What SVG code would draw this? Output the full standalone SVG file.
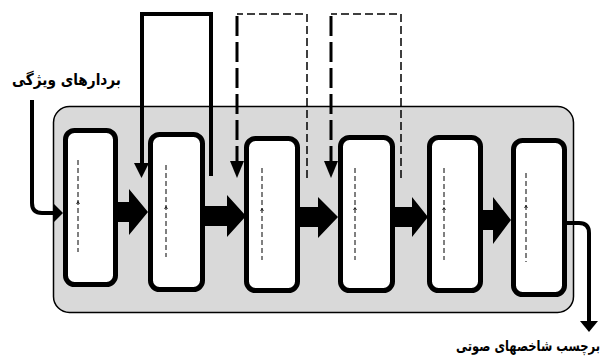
<svg xmlns="http://www.w3.org/2000/svg" width="606" height="361" viewBox="0 0 606 361">
<defs>
<style>
.box{fill:#fff;stroke:#000;stroke-width:5}
.lbl{font-family:"DejaVu Sans",sans-serif;font-weight:bold;font-size:16px;fill:#000}
.inner{stroke:#000;stroke-width:1;stroke-dasharray:5,3;fill:none}
.caret{stroke:#000;stroke-width:0.8;fill:none}
.solid{stroke:#000;stroke-width:4;fill:none}
.thin{stroke:#000;stroke-width:1.5;stroke-dasharray:8,4;fill:none}
.thick{stroke:#000;stroke-width:3;stroke-dasharray:20,6;fill:none}
.head{fill:#000}
</style>
</defs>
<rect id="container" x="53.5" y="106.5" width="520" height="206" rx="16" fill="#d9d9d9" stroke="#000" stroke-width="1.5"/>
<g id="box1"><rect class="box" x="65.5" y="130.5" width="50" height="154" rx="9"/><path class="inner" d="M78,160 V252"/><path class="caret" d="M76.5,204 L78,201.5 L79.5,204"/></g>
<g id="box2"><rect class="box" x="150.5" y="134.5" width="52" height="155" rx="9"/><path class="inner" d="M166,165 V257"/><path class="caret" d="M164.5,209 L166,206.5 L167.5,209"/></g>
<g id="box3"><rect class="box" x="246.5" y="138.5" width="51" height="152" rx="9"/><path class="inner" d="M262,168 V260"/><path class="caret" d="M260.5,211 L262,208.5 L263.5,211"/></g>
<g id="box4"><rect class="box" x="340.5" y="137.5" width="52" height="153" rx="9"/><path class="inner" d="M355,168 V260"/><path class="caret" d="M353.5,210 L355,207.5 L356.5,210"/></g>
<g id="box5"><rect class="box" x="429.5" y="137.5" width="51" height="153" rx="9"/><path class="inner" d="M444,168 V260"/><path class="caret" d="M442.5,210 L444,207.5 L445.5,210"/></g>
<g id="box6"><rect class="box" x="513.5" y="140.5" width="51" height="154" rx="9"/><path class="inner" d="M526,173 V262"/><path class="caret" d="M524.5,208 L526,205.5 L527.5,208"/></g>
<g id="connectors">
<path class="solid" d="M32,100 V203 Q32,213 42,213 H55" stroke-width="7"/>
<polygon class="head" points="53,203 63,213 53,223"/>
<polygon class="head" points="117,202 129,202 129,189 148,212 129,235 129,222 117,222"/>
<polygon class="head" points="204,206 227,206 227,195 246,216 227,237 227,226 204,226"/>
<polygon class="head" points="299,207 318,207 318,197 338,217 318,238 318,227 299,227"/>
<polygon class="head" points="394,207 412,207 412,197 428,217 412,237 412,227 394,227"/>
<polygon class="head" points="482,210 493,210 493,197 511,220 493,244 493,230 482,230"/>
<path class="solid" d="M567,223 H579 Q589,223 589,233 V323" stroke-width="7"/>
<polygon class="head" points="580,321 598,321 589,332"/>
<path class="solid" d="M211,176 V14 H142 V166"/>
<polygon class="head" points="134,163 149,163 141.5,178"/>
<path class="thin" d="M307,178 V14 H237" stroke-width="2"/>
<path class="thick" d="M237,16 V164"/>
<polygon class="head" points="230,161 244,161 237,178"/>
<path class="thin" d="M401,178 V14 H331"/>
<path class="thick" d="M331,16 V164"/>
<polygon class="head" points="324,161 338,161 331,178"/>
</g>
<text class="lbl" x="12" y="85" textLength="109" lengthAdjust="spacingAndGlyphs">بردارهای ویژگی</text>
<text class="lbl" x="456" y="351" textLength="144" lengthAdjust="spacingAndGlyphs" style="font-size:15px">برچسب شاخصهای صوتی</text>
</svg>
